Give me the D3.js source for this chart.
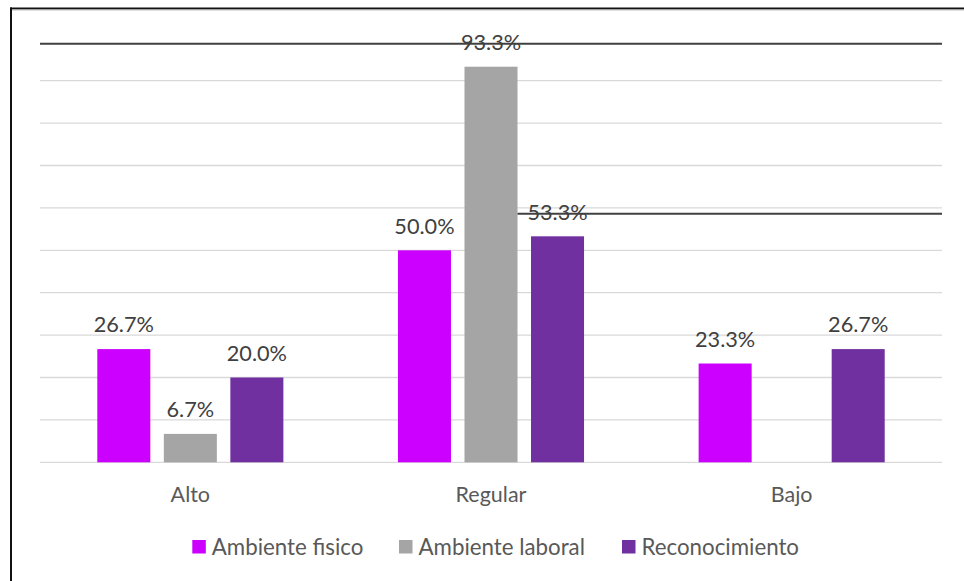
<!DOCTYPE html>
<html>
<head>
<meta charset="utf-8">
<script src="https://cdn.jsdelivr.net/npm/d3@7"></script>
<style>
  html, body { margin: 0; padding: 0; background: #fff; }
  svg { display: block; font-family: Lato, "Open Sans", sans-serif; }
</style>
</head>
<body>
<svg id="chart" width="964" height="581"></svg>
<script>
// Categories and series
const categories = ["Alto", "Regular", "Bajo"];
const seriesNames = ["Ambiente fisico", "Ambiente laboral", "Reconocimiento"];
const seriesColors = ["#CC00FF", "#A5A5A5", "#7030A0"];

// Percent values per series, in category order (null = no bar)
const ambienteFisico = [26.7, 50.0, 23.3];
const ambienteLaboral = [6.7, 93.3, null];
const reconocimiento = [20.0, 53.3, 26.7];
const seriesValues = [ambienteFisico, ambienteLaboral, reconocimiento];

// Gridline values
const gridTicks = [0, 10, 20, 30, 40, 50, 60, 70, 80, 90];

// Dark horizontal rule lines drawn over the plot
const ruleLines = [
  { value: 98.7, startCategory: null, startSeries: null },
  { value: 58.6, startCategory: "Regular", startSeries: "Ambiente laboral" }
];

const svg = d3.select("#chart");
const W = 964, H = 581;
const plot = { left: 40, right: 942, top: 38.3, bottom: 462.3 };

svg.append("rect").attr("width", W).attr("height", H).attr("fill", "#fff");

// Frame (top and left edges)
svg.append("line").attr("x1", 10).attr("x2", W).attr("y1", 8.5).attr("y2", 8.5)
  .attr("stroke", "#111").attr("stroke-width", 2);
svg.append("line").attr("x1", 10).attr("x2", W).attr("y1", 10).attr("y2", 10)
  .attr("stroke", "#bbb").attr("stroke-width", 1);
svg.append("line").attr("x1", 11).attr("x2", 11).attr("y1", 7.5).attr("y2", H)
  .attr("stroke", "#111").attr("stroke-width", 2);

const y = d3.scaleLinear().domain([0, 100]).range([plot.bottom, plot.top]);
const x0 = d3.scaleBand().domain(categories).range([plot.left, plot.right]).padding(0);
const groupPad = 57.3;
const x1 = d3.scaleBand().domain(seriesNames)
  .range([groupPad, x0.bandwidth() - groupPad])
  .paddingInner(0.203).paddingOuter(0);

// Gridlines
svg.append("g").selectAll("line").data(gridTicks).join("line")
  .attr("x1", plot.left).attr("x2", plot.right)
  .attr("y1", d => y(d)).attr("y2", d => y(d))
  .attr("stroke", "#D9D9D9").attr("stroke-width", 1.3);

// Bars
const barData = [];
seriesNames.forEach((s, si) => {
  categories.forEach((c, ci) => {
    const v = seriesValues[si][ci];
    if (v != null) barData.push({ series: s, cat: c, value: v, color: seriesColors[si] });
  });
});

svg.append("g").selectAll("rect").data(barData).join("rect")
  .attr("x", d => x0(d.cat) + x1(d.series))
  .attr("width", x1.bandwidth())
  .attr("y", d => y(d.value))
  .attr("height", d => y(0) - y(d.value))
  .attr("fill", d => d.color);

// Value labels
svg.append("g").selectAll("text").data(barData).join("text")
  .attr("x", d => x0(d.cat) + x1(d.series) + x1.bandwidth() / 2)
  .attr("y", d => y(d.value) - 16.7)
  .attr("text-anchor", "middle")
  .attr("font-size", 21.7)
  .attr("fill", "#404040")
  .text(d => d.value.toFixed(1) + "%");

// Rule lines
svg.append("g").selectAll("line").data(ruleLines).join("line")
  .attr("x1", d => d.startCategory ? x0(d.startCategory) + x1(d.startSeries) + x1.bandwidth() : plot.left)
  .attr("x2", plot.right)
  .attr("y1", d => y(d.value)).attr("y2", d => y(d.value))
  .attr("stroke", "#404040").attr("stroke-width", 2);

// Category axis labels
const xAxis = d3.axisBottom(x0).tickSize(0).tickPadding(0);
const gx = svg.append("g").attr("transform", `translate(0,${plot.bottom})`).call(xAxis);
gx.select(".domain").remove();
gx.selectAll("text")
  .attr("dy", null)
  .attr("y", 40)
  .attr("font-family", "Lato, 'Open Sans', sans-serif")
  .attr("font-size", 21.5)
  .attr("fill", "#595959");

// Legend
const legendItems = seriesNames.map((s, i) => ({ name: s, color: seriesColors[i] }));
const legendStarts = [192.3, 399, 622];
const legend = svg.append("g");
const li = legend.selectAll("g").data(legendItems).join("g")
  .attr("transform", (d, i) => `translate(${legendStarts[i]},540)`);
li.append("rect").attr("width", 13.5).attr("height", 13.5).attr("fill", d => d.color);
li.append("text").attr("x", 19.5).attr("y", 15)
  .attr("font-size", 22.3).attr("fill", "#595959")
  .text(d => d.name);
</script>
</body>
</html>
